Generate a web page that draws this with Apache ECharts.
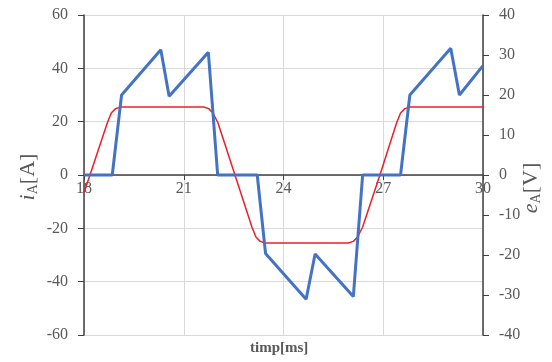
<!DOCTYPE html>
<html>
<head>
<meta charset="utf-8">
<script src="https://cdn.jsdelivr.net/npm/echarts@6/dist/echarts.min.js"></script>
<style>html,body{margin:0;padding:0;background:#fff}#c{width:552px;height:362px}</style>
</head>
<body>
<div id="c"></div>
<script>
// i_A current [A] (time ms, value)
const iTime = [18, 18.85, 19.13, 20.31, 20.56, 21.74, 22.02, 23.21, 23.46, 24.68, 24.95, 26.10, 26.38, 27.52, 27.80, 29.03, 29.29, 30];
const iVals = [0, 0, 30, 47, 29.5, 46, 0, 0, -29.4, -46.6, -29.6, -45.6, 0, 0, 30, 47.5, 30, 41];
// e_A back-EMF [V]
const eTime = [18, 18.18, 18.7, 18.82, 18.95, 19.1, 21.6, 21.75, 21.88, 22.03, 22.54, 23.05, 23.17, 23.3, 23.45, 25.95, 26.1, 26.23, 26.38, 26.9, 27.4, 27.52, 27.65, 27.8, 30];
const eVals = [-4.4, 0, 13, 15.5, 16.6, 17, 17, 16.6, 15.5, 13, 0, -13, -15.5, -16.6, -17, -17, -16.6, -15.5, -13, 0, 13, 15.5, 16.6, 17, 17];
// axis settings
const xMin = 18, xMax = 30, xStep = 3;
const iMin = -60, iMax = 60, iStep = 20;
const eMin = -40, eMax = 40, eStep = 10;

const iData = iTime.map((t, k) => [t, iVals[k]]);
const eData = eTime.map((t, k) => [t, eVals[k]]);

const txt = '#595959';
const axisCol = '#404040';
const font = '"Liberation Serif", "Times New Roman", serif';
const nameRich = {
  i: { fontFamily: font, fontSize: 22, fontStyle: 'italic', fill: txt, color: txt },
  s: { fontFamily: font, fontSize: 14, fill: txt, color: txt, padding: [10, 0, 0, 0] },
  n: { fontFamily: font, fontSize: 22, fill: txt, color: txt }
};

const chart = echarts.init(document.getElementById('c'));
chart.setOption({
  animation: false,
  grid: { left: 84, right: 69, top: 15, bottom: 27 },
  xAxis: {
    type: 'value', min: xMin, max: xMax, interval: xStep,
    position: 'bottom', offset: -160,
    axisLine: { onZero: false, lineStyle: { color: axisCol, width: 1.5 } },
    axisTick: { show: true, inside: false, length: 5, lineStyle: { color: axisCol } },
    axisLabel: { color: txt, fontFamily: font, fontSize: 16, margin: 6 },
    splitLine: { show: true, lineStyle: { color: '#d9d9d9', width: 1 } }
  },
  yAxis: [{
    type: 'value', min: iMin, max: iMax, interval: iStep,
    axisLine: { show: true, onZero: false, lineStyle: { color: axisCol, width: 1.5 } },
    axisTick: { show: true, length: 6, lineStyle: { color: axisCol } },
    axisLabel: { color: txt, fontFamily: font, fontSize: 16, margin: 16 },
    splitLine: { show: true, lineStyle: { color: '#d9d9d9', width: 1 } }
  }, {
    type: 'value', min: eMin, max: eMax, interval: eStep, position: 'right',
    axisLine: { show: true, onZero: false, lineStyle: { color: axisCol, width: 1.5 } },
    axisTick: { show: true, length: 6, lineStyle: { color: axisCol } },
    axisLabel: { color: txt, fontFamily: font, fontSize: 16, margin: 16 },
    splitLine: { show: false }
  }],
  graphic: [{
    type: 'text', left: 250, top: 341,
    style: { text: 'timp[ms]', fill: txt, font: 'bold 15px ' + font }
  }, {
    type: 'text', x: 28, y: 177, rotation: Math.PI / 2,
    style: { text: '{i|i}{s|A}{n|[A]}', rich: nameRich, align: 'center', verticalAlign: 'middle' }
  }, {
    type: 'text', x: 531, y: 188, rotation: Math.PI / 2,
    style: { text: '{i|e}{s|A}{n|[V]}', rich: nameRich, align: 'center', verticalAlign: 'middle' }
  }],
  series: [{
    type: 'line', yAxisIndex: 1, data: eData, showSymbol: false,
    lineStyle: { color: '#e8202a', width: 1.5 }, z: 3
  }, {
    type: 'line', yAxisIndex: 0, data: iData, showSymbol: false,
    lineStyle: { color: '#4472c4', width: 3 }, z: 4
  }]
});
</script>
</body>
</html>
